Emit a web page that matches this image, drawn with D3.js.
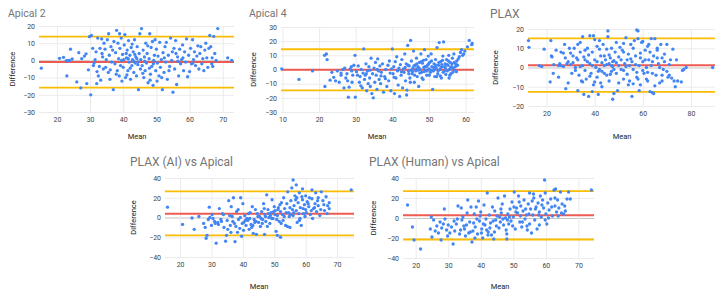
<!DOCTYPE html>
<html>
<head>
<meta charset="utf-8">
<script src="https://cdn.jsdelivr.net/npm/d3@7"></script>
<style>
  body { margin: 0; background: #fff; }
  svg { display: block; font-family: Roboto, Arial, sans-serif; }
</style>
</head>
<body>
<svg width="722" height="296"></svg>
<script>
/* Bland-Altman points, each pair is [mean, difference] */
var apical2Points = [
  [15.3,-4.5],[20.8,1.2],[22,1.8],[22.8,-0.2],[23.3,-0.1],[23.8,0],[24.1,6.5],[23,-9],[24.6,0.8],
  [26,-12.5],[26.6,4.5],[27.2,-16],[27.5,1],[28.3,2.5],[28.8,3.8],[29,-13.5],[29.5,-5.5],[29.8,13.8],
  [30.4,14.5],[30.2,-20],[30.8,7],[31,-3],[31.5,0.5],[31.8,5],[32,-13.5],[32.3,13],[32.5,-9],[32.8,-3.5],
  [33,7],[33.2,-11.5],[33.5,12.5],[33.8,2],[34,-5],[34.2,10],[34.5,6.5],[34.7,-4],[34.9,0.5],[33.6,4],
  [31.2,-1.5],[32.1,-6.5],
  [35.2,12],[35.6,15.5],[35.8,3],[36,-11],[36.3,8],[36.5,-1],[36.8,6],[37,-17],[37.2,11],[37.5,-2],
  [37.7,4.5],[38,17.5],[38.2,-6],[38.4,10],[38.6,1],[38.8,-9],[39,7],[39.2,-3],[39.4,13],[39.6,-12],
  [39.8,3.5],[36.1,-5.5],[37.9,-8],[35.5,-7],[38.9,15.5],[39.5,0],
  [40,-4],[40.3,9],[40.5,15],[40.7,-10],[41,1.5],[41.2,6],[41.4,-6],[41.6,11.5],[41.8,-1],[42,3],
  [42.2,-11],[42.4,7.5],[42.6,-3],[42.8,0.5],[43,5],[43.2,-7],[43.4,12],[43.6,-1.5],[43.8,2],[44,-9],
  [44.2,8],[44.4,-2.5],[44.6,-17],[44.8,4],[45,15.5],[45.2,-5],[45.5,18.5],[43.1,-0.5],[42.1,-4.5],
  [41.1,-8.5],[40.9,4],[44.1,1],[43.5,3.5],[42.7,9.5],[41.5,1],[40.2,0.5],[44.5,-0.8],[45.3,0.5],
  [45.7,-3],[46,6],[46.2,-10],[46.4,2],[46.6,-6],[46.8,10],[47,-1.5],[47.2,4],[47.5,-13],[47.8,1],
  [48,15.5],[48.2,-8],[48.4,7.5],[48.6,-3.5],[48.8,11],[49,-14.5],[49.2,0],[49.4,3],[49.6,12],[49.8,-6],
  [46.5,-0.5],[47.4,8.5],[48.1,-11.5],[49.1,-2],[45.9,-7.5],[47.9,-4.5],
  [50,6.5],[50.2,-12],[50.5,2.5],[50.8,-9],[51,10.5],[51.2,-4],[51.5,0.5],[51.8,-17],[52,4.5],[52.3,-7],
  [52.6,8],[52.8,-1],[53,10.5],[53.3,-11],[53.6,3],[54,-3.5],[54.3,13],[54.6,0],[55,-18.5],[55.3,7],
  [50.3,-1.5],[51.6,-10],[52.4,1.5],[53.8,-6],[54.8,5],
  [55.5,-5],[55.8,11.5],[56.1,-14],[56.4,2],[56.7,-9],[57,6.5],[57.3,-2],[57.6,0.5],[57.9,9],[58.2,-6],
  [58.5,5],[58.8,-1],[59.1,12.5],[59.4,-9.5],[59.7,3],[56.5,-0.5],[58,1.5],[55.9,4],
  [60,-6.5],[60.3,7],[60.6,-2],[60.9,12],[61.2,0.5],[61.5,5],[61.8,-3],[62.2,2.5],[62.5,8.5],[62.8,-5],
  [63.1,4],[63.4,8],[63.7,-2],[64,1],[64.3,-6],[64.6,6],[64.9,10],[61,-1.5],
  [65.2,1.5],[65.5,-4],[65.8,7],[66.1,14.5],[66.4,8],[66.7,-2],[67,-3.5],[67.3,14],[67.6,4],[68,0],
  [68.5,18.5],[71.5,1.5],[72.7,0],[66.8,1.5]
];

var apical4Points = [
  [9.8,0.5],[14.5,-7],[18.2,-1],[21.5,10],[22,11],[22.2,7],[21.6,-12],
  [23,-7.5],[23.5,-2],[24,-5.5],[24.5,-8],[25,-1],[25.5,-9],[26,-4],[26.5,0],[26.8,-13],[27,1],
  [27.3,-6],[27.6,-3],[28,-19.5],[28.2,-12.5],[28.5,0.5],[28.8,2],[29,-9],[29.2,-4],[29.5,3],[29.8,10],
  [29.9,-19.5],[26,-2.5],[27.8,-8],[28.9,-1],
  [30.2,-1.5],[30.5,-4],[30.7,2.5],[31,-9],[31.2,-5],[31.5,0],[31.8,-13],[32,-2.5],[32.2,14.5],[32.4,-7],
  [32.6,-4],[32.8,4],[33,-15],[33.2,-1],[33.4,-10],[33.6,2],[33.8,-6],[34,-12],[34.2,8],[34.4,-17],
  [34.6,-3],[34.8,-20],[35,1],[31.4,-11.5],[33.9,-0.5],[32.9,-3],
  [35.2,-9],[35.4,5],[35.6,-4],[35.8,-14],[36,7.5],[36.2,-1],[36.4,-7],[36.6,2.5],[36.8,-10],[37,-2],
  [37.3,4],[37.6,-16],[37.9,-5],[38.2,0],[38.5,-12],[38.8,3],[39,-8],[39.2,6],[39.4,-2.5],[39.6,-15],
  [39.8,0.5],[36.9,-4.5],[38.1,-6.5],[35.9,0],
  [40,14.5],[40.2,-3],[40.4,2],[40.6,-17],[40.8,5.5],[41,-6],[41.2,9],[41.4,-1],[41.6,-11],[41.8,1],
  [42,-19],[42.2,3.5],[42.4,-4],[42.6,7],[42.8,-13],[43,0.5],[43.2,-2],[43.4,11],[43.6,-8],[43.8,4],
  [44,-14.5],[44.2,17],[44.4,-1],[44.6,2.5],[44.8,-6],[45,20.5],[40.5,-5.5],[41.5,-0.5],[42.5,-1.5],
  [43.5,1.5],[44.5,-3],[43.9,-18],
  [45.2,6],[45.4,-3],[45.6,1],[45.8,13],[46,-9],[46.2,3],[46.4,-1],[46.6,8],[46.8,-5],[47,2],
  [47.2,-12],[47.4,5],[47.6,0],[47.8,11],[48,-2],[48.2,4.5],[48.4,-7],[48.6,1.5],[48.8,14],[49,-0.5],
  [49.2,7],[49.4,-4],[49.6,3],[49.8,9.5],[45.5,-1.5],[46.5,0.5],[47.5,-2.5],[48.5,6.5],[49.5,-1],
  [47.1,-0.5],[48.9,2],
  [50,0.5],[50.2,5],[50.4,-2],[50.6,11],[50.8,2],[51,-14],[51.2,-1],[51.4,4],[51.6,-5],[51.8,7],
  [52,1],[52.2,15.5],[52.4,-3],[52.6,3],[52.8,19],[53,0],[53.2,5.5],[53.4,-6],[53.6,2],[53.8,9.5],
  [54,19.5],[54.2,-1],[54.4,4],[54.6,-3.5],[54.8,7],[50.5,-0.5],[51.5,1.5],[52.5,-1],[53.5,3.5],
  [54.5,1],[53.1,-4.5],
  [55,-1],[55.2,3],[55.4,10],[55.6,0],[55.8,5],[56,-3],[56.2,2],[56.4,8],[56.6,1],[56.8,11],
  [57,-0.5],[57.3,4],[57.6,6],[58,7.5],[58.3,9],[58.6,12],[58.9,14],[59.2,10],[59.5,11],[59.8,13],
  [60.5,16],[61,20.5],[61.7,17.5],[61.8,18.5],[55.5,-6],[56.5,-2],[57.5,-1.5],
  [44.3,3],[45.1,-0.5],[45.9,2.5],[46.7,4],[47.3,1],[47.9,5.5],[48.7,-1.5],[49.3,2],[49.9,4],
  [50.7,6],[51.3,0],[51.9,3],[52.7,5],[53.3,1.5],[53.9,-2],[54.3,2],[54.9,3.5],[55.3,6],[55.9,1.5],
  [56.3,4],[56.9,5],[57.2,2],[57.8,3],[52.1,-5],[50.1,-4],[48.1,-6],[46.1,-4],[44.9,-9],[55.7,-4],
  [53.7,6.5]
];

var plaxPoints = [
  [12.5,14],[12.7,10.5],[17,1],[18,0.5],[19,9.5],[21.5,-7.5],[21.8,14],[22,6],[22.3,5.5],[22.8,-3],
  [23,1.5],[24,9],[25,1],[25.5,2],[26,8],[27,7.5],[27.5,12],[27.8,5],[28,-11],[28.5,2],[29,-8],
  [29.5,10],[30,1.5],[31,2.5],[31.5,10],[32,0],[32.5,5],[33,12],[33.5,-4],[34,8],[34.5,-7],[35,16],
  [35,1],[35.5,-14],[36,4],[36.5,-6],[37,10],[37.5,-15],[38,16.5],[38,2],[38.5,-3],[39,8],[39.5,16.5],
  [39.5,-9],[40,4],[40.5,0],[41,-5],[41,11],[41.5,-14],[42,14],[42,-1],[42.5,6],[43,2.5],[43,-10],
  [44,-3],[44.5,4],[45,9.5],[45.5,19],[45.5,16],[46,2],[46,-7],[46.5,5],[47,-2],[47.5,3],[47.5,-16.5],
  [48,-13.5],[48.5,8],[49,13],[49.5,-12],[50,1],[50,5.5],[51,-1],[51.5,9],[52,-6],[52.5,2],[53,15.5],
  [53.5,-3.5],[54,7],[54.5,-7],[55,12],[55.5,-15],[55.5,3],[56,-1],[56.5,14],[57,6],[57.5,-5],
  [57.5,19.5],[58,19],[58.5,1],[59,5],[59,-9],[59.5,13],[60,3],[60.5,-3],[61,9],[61.5,0],[62,11],
  [62,-7],[62.5,4],[63,-12.5],[63.5,15],[63.5,1],[64,-13],[64.5,6],[65,15],[65.5,-4],[66,10],[66.5,2],
  [67,-8],[67.5,12],[68,5],[68.5,-1],[69,3],[70,12],[70.5,-5],[71,1.5],[71.5,4],[72,-5.5],[72.5,9.5],
  [73,-7],[73.5,-10],[74,4],[76,-7.5],[76.5,-1.5],[77,-1],[78,0],[89,0],
  [30.5,-3],[31,6],[32,-1.5],[33,4],[34,0.5],[35,-7.5],[36,9],[37,3],[38,-4.5],[39,1],[40,-7.5],
  [41,3],[42,9.5],[43,-2],[44,1],[45,-4],[46,6.5],[47,1],[48,3.5],[49,-3],[50,-8],[51,4],[52,12.5],
  [53,0.5],[54,-9],[55,4.5],[56,-8.5],[57,1.5],[58,-6],[59,7.5],[60,-1.5],[61,4],[62,-2.5],[63,8],
  [64,3],[65,-9.5],[66,5],[67,0],[68,-4],[69,7],[70,-2],[34,13],[36,-1.5],[40,14.5],[44,6],[48,-1],
  [52,-1.5],[56,10],[60,13.5],[64,-3],[46.5,-3.5],[47.5,0.5],[45,1.5],[49,2.5],[53.5,4],[57.5,-2.5],
  [61.5,-6],[37.5,6.5],[41.5,-2],[29,3],[27,0.5],[25,-5],[33,-12],[43.5,12],[58,15],[66,9],[62.5,12],
  [50.5,10.5],[35.5,5.5],[39,-12.5],[42.5,-8],[54.5,1],[58.5,-12],[64.5,-13.5],[68,-7],[71,-4],
  [74.5,-7],[47,10],[52,8],[30,7.5],[26,1]
];

var plaxAiPoints = [
  [16,10.5],[20.8,-7],[23.8,-0.5],[24.5,-12],[26,1],[27.5,-6],[28,-10],[28.3,-21],[28.6,-18],[29,-2],
  [29.3,10.5],[29.5,0],[30,-8],[30.2,3],[31,-4],[31.5,-26],[32,-5],[32.5,9],[33,-2],[33.5,4],[34,-10],
  [34.5,-24],[34.8,-18],[35,-3],[35.5,17],[36,-8],[36.3,11],[36.6,1],[37,20],[37.3,-6],[37.5,-24.5],
  [38,6],[38.3,-15],[38.6,-2],[39,-11],[39.3,20],[39.6,-19],[40,14],[40.3,-5],[40.6,2],[41,-8],
  [41.3,-1],[41.6,-3],[42,-12],[42.3,5],[42.6,-7],[43,11],[43.3,-16],[43.6,-2],[44,8],[44.3,-17],
  [44.6,4],[45,-5],[45.3,1],[45.6,-9],[46,6],[46.3,-2],[46.6,14],[46.9,-17],[47,3],[47.3,-4],[47.6,23],
  [48,8],[48.3,0],[48.6,-6],[49,5],[49.3,18],[49.6,-1],[50,11],[50.3,7],[50.6,-14],[51,-18],[51,2],
  [51.3,10],[51.6,-4],[52,-20],[52,6],[52.3,15],[52.6,3],[53,20],[53.3,9],[53.6,-8],[54,14],[54.3,26],
  [54.6,5],[55,-10],[55,10],[55.3,17],[55.6,30],[56,38],[56,2],[56.3,12],[56.6,22],[57,33],[57,7],
  [57.3,-5],[57.6,15],[58,25],[58,-3],[58.3,10],[58.6,-8],[59,18],[59,29],[59.3,4],[59.6,13],[60,22],
  [60,8],[60.5,16],[61,11],[61.5,3],[62,19],[62,28],[62.5,9],[63,14],[63.5,6],[64,20],[64,12],
  [64.5,2],[65,26],[65.5,17],[66,7],[66.5,21],[67,12],[67.5,15],[67.5,9],[74.5,28],
  [30.5,-1],[32.2,-7],[33.8,3],[35.2,-12],[36.8,-4],[38.5,8],[39.8,-6],[40.8,-3],[41.8,4],[42.8,-10],
  [43.8,-5],[44.8,1],[45.8,-1],[46.8,9],[47.8,-9],[48.8,2],[49.8,6],[50.8,-2],[51.8,13],[52.8,-3],
  [53.8,5],[54.8,1],[55.8,8],[56.8,18],[57.8,4],[58.8,21],[59.8,1],[60.8,14],[61.8,7],[62.8,10],
  [63.8,17],[64.8,8],[65.8,13],[66.8,4],[37.8,-9],[40.2,-13],[43.2,-8],[46.2,-6],[49.2,-1],[52.2,-6],
  [55.2,3],[58.2,-1],[61.2,20],[47.2,1],[48.2,4],[50.2,3],[53.2,1],[56.2,5],[57.2,20],[59.2,9],
  [60.2,5],[62.2,-1],[63.2,25],[54.2,-9],[51.2,8],[44.2,-4],[42.2,-1],[39.2,0],[36.2,-15],[35.8,2],
  [33.2,-4],[31.2,-6]
];

var plaxHumanPoints = [
  [17.5,13],[19,-9],[19.5,-22],[21.5,-31],[24.5,-11],[24.8,1],[25,-19],[25.5,-2],[26,-13],[26.5,-8],
  [27,-15],[27.5,-4],[27.8,-22],[28,-10],[28.5,-6],[28.8,9],[29,-1],[29.5,-12],[30,-7],[31,-9],
  [31.5,-26],[32,-13],[32.5,-6],[33,12],[33.5,-16],[34,10],[34.2,-2],[34.5,1],[35,-11],[35.3,-18],
  [35.6,-7],[36,18],[36.3,-15],[36.6,-4],[37,11],[37.3,-24],[37.6,-13],[38,4],[38.3,-9],[38.6,11],
  [39,-16],[39.3,17],[39.6,-3],[40,6],[40.3,-11],[40.6,-20],[41,13],[41.3,-7],[41.6,-1],[42,25],
  [42.3,-14],[42.6,3],[43,-5],[43.3,-17],[43.6,11],[44,-21],[44.3,7],[44.6,-2],[45,2],[45.3,20],
  [45.6,-10],[46,-4],[46.3,5],[46.6,14],[47,-7],[47.3,22],[47.6,0],[48,-21],[48,-16],[48.3,4],
  [48.6,-6],[49,9],[49.3,-3],[49.6,16],[50,1],[50.3,26],[50.6,-11],[51,10],[51.3,5],[51.6,22],
  [52,-4],[52.3,12],[52.6,-9],[53,7],[53.3,18],[53.6,-1],[54,3],[54.3,-12],[54.6,14],[55,25],
  [55,-6],[55.3,9],[55.6,-15],[56,3],[56.3,20],[56.6,-2],[57,11],[57.3,-11],[57.6,15],[58,-7],
  [58,6],[58.3,22],[58.6,1],[59,18],[59.3,10],[59.6,38],[59.8,25],[60,4],[60.3,-6],[60.6,15],
  [61,8],[61.5,19],[62,2],[62.5,28],[62.8,12],[63,29],[63.3,6],[63.6,18],[64,10],[64.5,26],
  [65,14],[65.5,4],[66,7],[66.5,19],[67,26],[67.5,19],[74,28],
  [30.5,-15],[32.8,-1],[34.8,-8],[36.8,-14],[38.8,-1],[40.8,-6],[42.8,-10],[44.8,-8],[46.8,-1],
  [48.8,1],[50.8,6],[52.8,-4],[54.8,4],[56.8,9],[58.8,13],[60.8,0],[62.8,20],[64.8,5],[29.8,-18],
  [31.8,-3],[33.8,-12],[35.8,5],[37.8,-5],[39.8,2],[41.8,-12],[43.8,-3],[45.8,1],[47.8,-12],
  [49.8,-8],[51.8,16],[53.8,9],[55.8,17],[57.8,3],[59.8,-2],[61.8,11],[63.8,2],[65.8,12],[46.2,9],
  [48.2,-2],[50.2,11],[52.2,2],[54.2,-8],[56.2,24],[44.2,-14],[42.2,-17],[40.2,-15],[38.2,-20]
];

/* mean difference, upper and lower limits of agreement */
var apical2Lines = [-1, 13.8, -15.8];
var apical4Lines = [-0.2, 14.3, -14.7];
var plaxLines = [1.2, 15.1, -12.7];
var plaxAiLines = [3.8, 26.4, -18.2];
var plaxHumanLines = [2.7, 26.8, -21.5];

/* tick labels */
var apical2XTicks = [20, 30, 40, 50, 60, 70];
var apical2YTicks = [-30, -20, -10, 0, 10, 20];
var apical4XTicks = [10, 20, 30, 40, 50, 60];
var apical4YTicks = [-30, -20, -10, 0, 10, 20, 30];
var plaxXTicks = [20, 40, 60, 80];
var plaxYTicks = [-20, -10, 0, 10, 20];
var pairXTicks = [20, 30, 40, 50, 60, 70];
var pairYTicks = [-40, -20, 0, 20, 40];

var svg = d3.select("svg");

/* panel layout: where each small chart sits and how big its title is */
var panels = [
  {title: "Apical 2", points: apical2Points, lines: apical2Lines, xTicks: apical2XTicks, yTicks: apical2YTicks,
   xDomain: [14.6, 73.4], yDomain: [-30, 20], left: 39, right: 234, top: 26, bottom: 112,
   titleX: 8, titleY: 17, titleSize: 10.5, diffX: 12, meanX: 137, meanY: 139},
  {title: "Apical 4", points: apical4Points, lines: apical4Lines, xTicks: apical4XTicks, yTicks: apical4YTicks,
   xDomain: [9.6, 62.3], yDomain: [-30, 30], left: 281, right: 474, top: 27, bottom: 112,
   titleX: 249, titleY: 17, titleSize: 10.5, diffX: 253, meanX: 377, meanY: 139},
  {title: "PLAX", points: plaxPoints, lines: plaxLines, xTicks: plaxXTicks, yTicks: plaxYTicks,
   xDomain: [12.3, 90], yDomain: [-20, 20], left: 528, right: 715, top: 29, bottom: 106,
   titleX: 490, titleY: 18, titleSize: 12, diffX: 495, meanX: 622, meanY: 139},
  {title: "PLAX (AI) vs Apical", points: plaxAiPoints, lines: plaxAiLines, xTicks: pairXTicks, yTicks: pairYTicks,
   xDomain: [15.2, 75.4], yDomain: [-40, 40], left: 165, right: 354, top: 178, bottom: 257,
   titleX: 130, titleY: 166, titleSize: 12, diffX: 133, meanX: 259, meanY: 289},
  {title: "PLAX (Human) vs Apical", points: plaxHumanPoints, lines: plaxHumanLines, xTicks: pairXTicks, yTicks: pairYTicks,
   xDomain: [16.1, 74.8], yDomain: [-40, 40], left: 403, right: 594, top: 178, bottom: 258,
   titleX: 369, titleY: 166, titleSize: 12, diffX: 373, meanX: 500, meanY: 289}
];

panels.forEach(function(p) {
  var x = d3.scaleLinear().domain(p.xDomain).range([p.left, p.right]),
      y = d3.scaleLinear().domain(p.yDomain).range([p.bottom, p.top]);
  var g = svg.append("g");

  /* grid comes from the axes with long ticks */
  var yAxis = g.append("g")
      .attr("transform", "translate(" + p.left + ",0)")
      .call(d3.axisLeft(y).tickValues(p.yTicks).tickSize(-(p.right - p.left)).tickPadding(4));
  var xAxis = g.append("g")
      .attr("transform", "translate(0," + p.bottom + ")")
      .call(d3.axisBottom(x).tickValues(p.xTicks).tickSize(-(p.bottom - p.top)).tickPadding(5));

  [yAxis, xAxis].forEach(function(a) {
    a.select(".domain").remove();
    a.selectAll("line").attr("stroke", "#ebebeb");
    a.selectAll("text").attr("fill", "#444").style("font-size", "7px").style("font-family", "Roboto, Arial, sans-serif");
  });
  yAxis.selectAll(".tick").filter(function(d) { return d === 0; })
    .select("line").attr("stroke", "#c4c4c4").attr("stroke-width", 1.2);

  /* limits of agreement and the mean difference */
  g.selectAll(".loa").data(p.lines).enter().append("line")
      .attr("x1", p.left).attr("x2", p.right)
      .attr("y1", function(d) { return y(d); })
      .attr("y2", function(d) { return y(d); })
      .attr("stroke", function(d, i) { return i === 0 ? "#ee5b52" : "#fbbc04"; })
      .attr("stroke-width", function(d, i) { return i === 0 ? 2 : 1.8; });

  g.selectAll(".dot").data(p.points).enter().append("circle")
      .attr("cx", function(d) { return x(d[0]); })
      .attr("cy", function(d) { return y(d[1]); })
      .attr("r", 1.65)
      .attr("fill", "#4285f4");

  g.append("text")
      .attr("x", p.titleX).attr("y", p.titleY)
      .attr("fill", "#757575")
      .style("font-size", p.titleSize + "px")
      .text(p.title);

  g.append("text")
      .attr("transform", "translate(" + (p.diffX + 2.5) + "," + ((p.top + p.bottom) / 2) + ") rotate(-90)")
      .attr("text-anchor", "middle")
      .attr("fill", "#222")
      .style("font-size", "7.5px")
      .text("Difference");

  g.append("text")
      .attr("x", p.meanX).attr("y", p.meanY)
      .attr("text-anchor", "middle")
      .attr("fill", "#222")
      .style("font-size", "7.5px")
      .text("Mean");
});
</script>
</body>
</html>
